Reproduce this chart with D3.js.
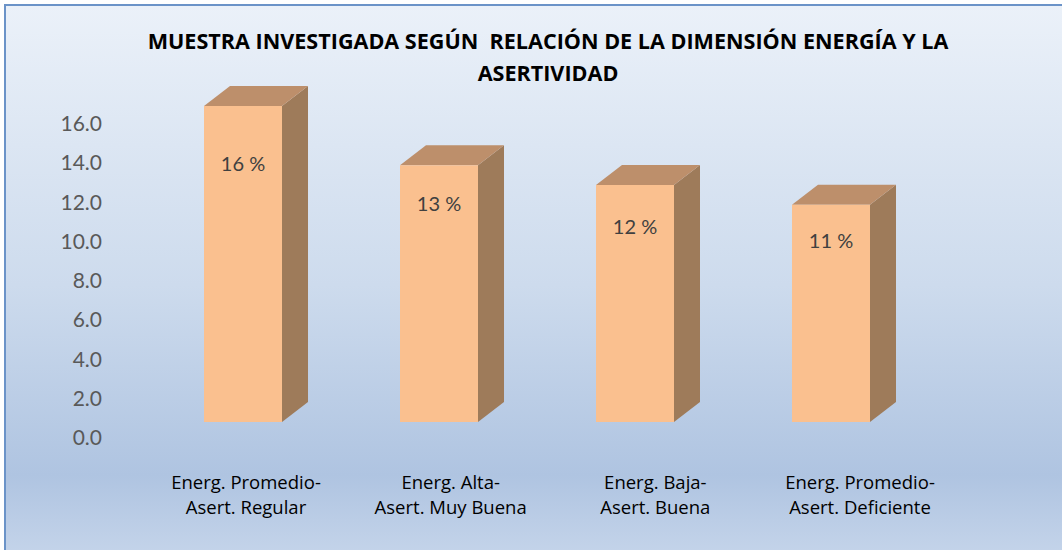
<!DOCTYPE html>
<html>
<head>
<meta charset="utf-8">
<script src="https://cdn.jsdelivr.net/npm/d3@7"></script>
<style>
  html, body { margin: 0; padding: 0; background: #fff; }
  svg { display: block; }
</style>
</head>
<body>
<div id="chart"></div>
<script>
// data
var titleLines = [
  "MUESTRA INVESTIGADA SEGÚN  RELACIÓN DE LA DIMENSIÓN ENERGÍA Y LA",
  "ASERTIVIDAD"
];
var categories = [
  "Energ. Promedio-Asert. Regular",
  "Energ. Alta-Asert. Muy Buena",
  "Energ. Baja-Asert. Buena",
  "Energ. Promedio-Asert. Deficiente"
];
var values = [16, 13, 12, 11];
var tickValues = [0, 2, 4, 6, 8, 10, 12, 14, 16];

var width = 1062;
var height = 550;
var depthX = 26;   // 3d depth of the columns
var depthY = -20;
var labelDrop = [58, 39, 42, 36]; // how far the value text sits below each column top

var svg = d3.select("#chart").append("svg")
  .attr("width", width)
  .attr("height", height);

var defs = svg.append("defs");
var bg = defs.append("linearGradient")
  .attr("id", "bg")
  .attr("x1", 0).attr("y1", 0).attr("x2", 0).attr("y2", 1);
bg.append("stop").attr("offset", "0%").attr("stop-color", "#ebf1f9");
bg.append("stop").attr("offset", "50%").attr("stop-color", "#cddbed");
bg.append("stop").attr("offset", "84%").attr("stop-color", "#afc4e1");
bg.append("stop").attr("offset", "100%").attr("stop-color", "#c7d6eb");

svg.append("rect")
  .attr("x", 5).attr("y", 5)
  .attr("width", width + 10).attr("height", height + 10)
  .attr("fill", "url(#bg)")
  .attr("stroke", "#6b93c8")
  .attr("stroke-width", 2);

// title, sized so the first line is as wide as in the picture
var title = svg.append("g")
  .selectAll("text")
  .data(titleLines)
  .enter()
  .append("text")
  .attr("x", 548)
  .attr("y", function (d, i) { return 49 + i * 32; })
  .attr("text-anchor", "middle")
  .style("white-space", "pre")
  .style("font-family", "'Open Sans', Lato, sans-serif")
  .style("font-weight", "bold")
  .style("font-size", "18px")
  .style("fill", "#000")
  .text(function (d) { return d; });

var firstW = title.node().getComputedTextLength();
if (firstW > 0) {
  var fs = Math.min(23, 18 * 801 / firstW);
  title.style("font-size", fs + "px");
}

// scales
var x = d3.scaleBand()
  .domain(categories)
  .range([106, 968])
  .paddingInner(0.602)
  .paddingOuter(0.5);

var y = d3.scaleLinear().domain([0, 16]).range([422, 106]);
var yWall = d3.scaleLinear().domain([0, 16]).range([437, 123]);
var xLabel = d3.scalePoint().domain(categories).range([246, 860]);

// value axis (back wall)
var yAxis = d3.axisLeft(yWall)
  .tickValues(tickValues)
  .tickFormat(d3.format(".1f"))
  .tickSize(0)
  .tickPadding(0);

var gy = svg.append("g")
  .attr("transform", "translate(102,0)")
  .call(yAxis);
gy.select(".domain").remove();
gy.selectAll("text")
  .attr("dy", "0.36em")
  .style("font-family", "Lato, 'Open Sans', sans-serif")
  .style("font-size", "21px")
  .style("fill", "#595959");

// columns
var bars = svg.append("g")
  .selectAll(".bar")
  .data(values)
  .enter()
  .append("g")
  .attr("class", "bar");

function frontX(i) { return x(categories[i]); }

bars.append("path")
  .attr("class", "side")
  .attr("fill", "#9e7b5a")
  .attr("d", function (d, i) {
    var x1 = frontX(i) + x.bandwidth();
    return "M" + x1 + "," + y(d) +
      "L" + (x1 + depthX) + "," + (y(d) + depthY) +
      "L" + (x1 + depthX) + "," + (y(0) + depthY) +
      "L" + x1 + "," + y(0) + "Z";
  });

bars.append("path")
  .attr("class", "top")
  .attr("fill", "#bd8f6b")
  .attr("d", function (d, i) {
    var x0 = frontX(i);
    var x1 = x0 + x.bandwidth();
    return "M" + x0 + "," + y(d) +
      "L" + (x0 + depthX) + "," + (y(d) + depthY) +
      "L" + (x1 + depthX) + "," + (y(d) + depthY) +
      "L" + x1 + "," + y(d) + "Z";
  });

bars.append("rect")
  .attr("class", "front")
  .attr("x", function (d, i) { return frontX(i); })
  .attr("y", function (d) { return y(d); })
  .attr("width", x.bandwidth())
  .attr("height", function (d) { return y(0) - y(d); })
  .attr("fill", "#fac08f");

bars.append("text")
  .attr("x", function (d, i) { return frontX(i) + x.bandwidth() / 2; })
  .attr("y", function (d, i) { return y(d) + labelDrop[i]; })
  .attr("dy", "0.36em")
  .attr("text-anchor", "middle")
  .style("font-family", "Lato, 'Open Sans', sans-serif")
  .style("font-size", "20px")
  .style("fill", "#404040")
  .text(function (d) { return d + " %"; });

// category labels, split after the hyphen
var cats = svg.append("g")
  .selectAll(".cat")
  .data(categories)
  .enter()
  .append("text")
  .attr("class", "cat")
  .attr("text-anchor", "middle")
  .style("font-family", "'Open Sans', Lato, sans-serif")
  .style("font-size", "18.5px")
  .style("fill", "#000");

cats.selectAll("tspan")
  .data(function (d) {
    var k = d.indexOf("-") + 1;
    return [d.slice(0, k), d.slice(k)];
  })
  .enter()
  .append("tspan")
  .attr("x", function () { return xLabel(d3.select(this.parentNode).datum()); })
  .attr("y", function (d, i) { return 489 + i * 25; })
  .text(function (d) { return d; });
</script>
</body>
</html>
